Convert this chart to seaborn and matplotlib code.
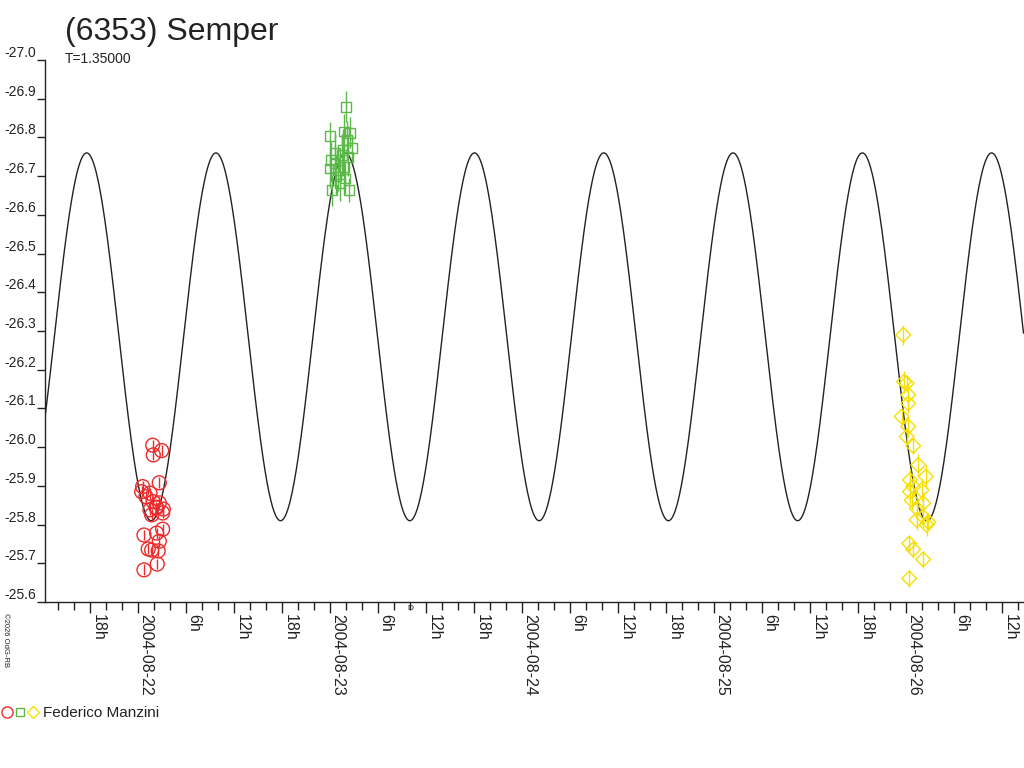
import matplotlib

matplotlib.use("Agg")
import matplotlib.dates as mdates
import matplotlib.pyplot as plt
import numpy as np
import pandas as pd
import seaborn as sns
from matplotlib.legend_handler import HandlerTuple
from matplotlib.lines import Line2D
from matplotlib.ticker import FixedLocator, FuncFormatter

# session 1 (red): hours after 2004-08-22 00:00
RED_HOURS = [1.78, 2.90, 1.85, 2.60, 0.52, 0.40, 1.44, 0.94, 1.85, 2.60, 2.19, 3.10, 1.44,
             1.65, 3.02, 2.27, 0.69, 2.27, 3.02, 2.60, 1.22, 2.47, 2.35, 0.69, 1.65]
RED_MAG = [-26.005, -25.991, -25.980, -25.908, -25.898, -25.885, -25.881, -25.872, -25.859,
           -25.856, -25.845, -25.840, -25.838, -25.825, -25.830, -25.843, -25.773, -25.778,
           -25.788, -25.757, -25.737, -25.732, -25.698, -25.683, -25.734]
RED_ERR = [0.014] * len(RED_MAG)

# session 2 (green): hours after 2004-08-23 00:00
GREEN_HOURS = [1.90, -0.06, 2.44, 1.73, 2.65, 2.03, 0.06, 1.40, -0.06, 0.65, 1.81, 0.15, 2.35,
               0.98, 1.73, 0.56, 2.23, 1.19, 1.60, 0.56]
GREEN_MAG = [-26.879, -26.804, -26.812, -26.815, -26.772, -26.793, -26.742, -26.755, -26.720,
             -26.699, -26.694, -26.664, -26.664, -26.716, -26.724, -26.733, -26.750, -26.681,
             -26.768, -26.759]
GREEN_ERR = [0.040, 0.035, 0.040, 0.045, 0.035, 0.050, 0.045, 0.055, 0.050, 0.045, 0.040, 0.040,
             0.030, 0.055, 0.060, 0.050, 0.050, 0.045, 0.055, 0.050]

# session 3 (yellow): hours after 2004-08-26 00:00
YELLOW_HOURS = [-0.40, -0.31, 0.03, 0.23, 0.23, -0.60, 0.23, 0.03, 0.85, 1.48, 2.44, 0.44, 0.85,
                0.44, 1.90, 0.65, 2.10, 1.28, 1.28, 2.10, 2.73, 2.53, 0.35, 0.85, 2.10, 0.35]
YELLOW_MAG = [-26.290, -26.169, -26.165, -26.135, -26.113, -26.079, -26.053, -26.027, -26.003,
              -25.954, -25.924, -25.915, -25.898, -25.885, -25.889, -25.863, -25.855, -25.842,
              -25.812, -25.820, -25.807, -25.799, -25.751, -25.736, -25.710, -25.661]
YELLOW_ERR = [0.025, 0.028, 0.022, 0.028, 0.025, 0.022, 0.028, 0.022, 0.022, 0.028, 0.030, 0.028,
              0.028, 0.032, 0.028, 0.025, 0.028, 0.022, 0.025, 0.028, 0.022, 0.028, 0.022, 0.022,
              0.022, 0.022]

# fitted lightcurve model (hours after 2004-08-22 00:00)
MODEL_PERIOD_H = 16.16
MODEL_PEAK_H = -6.475
MODEL_MEAN = -26.285
MODEL_AMP = 0.475

X_START = pd.Timestamp("2004-08-21 12:19")
X_END = pd.Timestamp("2004-08-26 14:38")
MOON_TIME = pd.Timestamp("2004-08-23 09:56")
Y_TICKS = [-27.0, -26.9, -26.8, -26.7, -26.6, -26.5, -26.4, -26.3, -26.2, -26.1, -26.0,
           -25.9, -25.8, -25.7, -25.6]

RED = "#ee2a2a"
GREEN = "#5cb84a"
YELLOW = "#f5e000"


def to_time(day, hours):
    return pd.Timestamp(day) + pd.to_timedelta(hours, unit="h")


def main() -> None:
    sns.set_style("white")
    plt.rcParams["font.family"] = ["Liberation Sans", "DejaVu Sans"]
    plt.rcParams["axes.unicode_minus"] = False

    fig = plt.figure(figsize=(10.24, 7.68), dpi=100)
    ax = fig.add_axes([45 / 1024, 166 / 768, 978.5 / 1024, 542 / 768])

    # model curve
    t_model = pd.date_range(X_START, X_END, periods=1500)
    h_model = (t_model - pd.Timestamp("2004-08-22")) / pd.Timedelta(hours=1)
    m_model = MODEL_MEAN - MODEL_AMP * np.cos(2 * np.pi * (h_model - MODEL_PEAK_H) / MODEL_PERIOD_H)
    model = pd.DataFrame({"time": t_model, "mag": m_model})
    sns.lineplot(data=model, x="time", y="mag", color="#222222", lw=1.0, ax=ax)

    sessions = [
        ("2004-08-22", RED_HOURS, RED_MAG, RED_ERR, RED, "o", 10),
        ("2004-08-23", GREEN_HOURS, GREEN_MAG, GREEN_ERR, GREEN, "s", 7),
        ("2004-08-26", YELLOW_HOURS, YELLOW_MAG, YELLOW_ERR, YELLOW, "D", 7.5),
    ]
    for day, hours, mag, err, color, marker, size in sessions:
        df = pd.DataFrame({"time": to_time(day, hours), "mag": mag, "err": err})
        ax.errorbar(df["time"], df["mag"], yerr=df["err"], fmt="none", ecolor=color,
                    elinewidth=1.0, capsize=0)
        sns.scatterplot(data=df, x="time", y="mag", marker=marker, s=size ** 2,
                        facecolors="none", edgecolors=color, linewidths=1.0, ax=ax, zorder=3)

    ax.set_xlim(X_START, X_END)
    ax.set_ylim(-25.6, -27.0)
    ax.set_xlabel("")
    ax.set_ylabel("")

    ax.yaxis.set_major_locator(FixedLocator(Y_TICKS))
    ax.yaxis.set_major_formatter(FuncFormatter(lambda v, p: f"{v:.1f}"))
    ax.xaxis.set_major_locator(mdates.HourLocator(byhour=[0, 6, 12, 18]))
    ax.xaxis.set_minor_locator(mdates.HourLocator(byhour=range(0, 24, 2)))

    def fmt_x(v, p):
        d = mdates.num2date(v)
        if d.hour == 0:
            return d.strftime("%Y-%m-%d")
        return f"{d.hour}h"

    ax.xaxis.set_major_formatter(FuncFormatter(fmt_x))

    for side in ["top", "right"]:
        ax.spines[side].set_visible(False)
    for side in ["left", "bottom"]:
        ax.spines[side].set_color("#222222")
        ax.spines[side].set_linewidth(1.0)

    ax.tick_params(axis="y", which="major", direction="out", length=6, width=1.0,
                   color="#222222", labelsize=10, labelcolor="#222222", pad=0.5, left=True)
    ax.tick_params(axis="x", which="major", direction="out", length=8, width=1.0,
                   color="#222222", labelsize=11.5, labelcolor="#222222", pad=1, bottom=True,
                   labelrotation=-90)
    ax.tick_params(axis="x", which="minor", direction="out", length=5.5, width=1.0,
                   color="#222222", bottom=True)
    for lbl in ax.get_yticklabels():
        lbl.set_va("bottom")
    for lbl in ax.get_xticklabels():
        lbl.set_ha("left")
        lbl.set_va("top")

    # moon phase mark below the axis
    ax.annotate("D", xy=(MOON_TIME, 0), xycoords=("data", "axes fraction"),
                xytext=(0, -2), textcoords="offset points", ha="center", va="top",
                fontsize=6, color="#222222")

    fig.text(65 / 1024, 1 - 40 / 768, "(6353) Semper", fontsize=23, color="#222222",
             va="baseline", ha="left")
    fig.text(65 / 1024, 1 - 63 / 768, "T=1.35000", fontsize=10, color="#222222",
             va="baseline", ha="left")
    fig.text(2 / 1024, 1 - 613 / 768, "\u00a92026 OdG-RB", fontsize=5.5, color="#222222",
             rotation=-90, va="top", ha="left")

    handles = (
        Line2D([], [], ls="none", marker="o", ms=8, mfc="none", mec=RED, mew=1.0),
        Line2D([], [], ls="none", marker="s", ms=6, mfc="none", mec=GREEN, mew=1.0),
        Line2D([], [], ls="none", marker="D", ms=6, mfc="none", mec=YELLOW, mew=1.0),
    )
    fig.legend([handles], ["Federico Manzini"],
               handler_map={tuple: HandlerTuple(ndivide=None, pad=0.2)},
               loc="center left", bbox_to_anchor=(0.0, 1 - 713 / 768), frameon=False,
               borderaxespad=0, borderpad=0.1, handlelength=2.4, handletextpad=0.3,
               fontsize=11, labelcolor="#222222")

    fig.savefig("out.png", dpi=100)
    plt.close(fig)


if __name__ == "__main__":
    main()
